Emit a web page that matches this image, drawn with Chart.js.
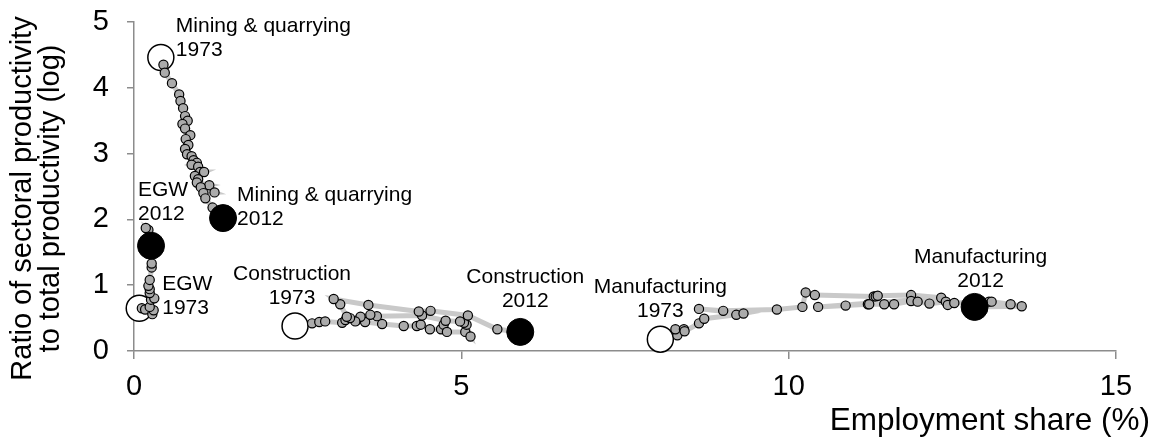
<!DOCTYPE html>
<html>
<head>
<meta charset="utf-8">
<script src="https://cdn.jsdelivr.net/npm/chart.js@4.4.1/dist/chart.umd.min.js"></script>
<style>
  html, body { margin: 0; padding: 0; background: #fff; }
  canvas { display: block; }
</style>
</head>
<body>
<canvas id="chart" width="1156" height="441"></canvas>
<script>
// Employment share (%) and productivity ratio, one entry per year (first = 1973, last = 2012)
const startYear = '1973';
const endYear = '2012';

const miningShare = [0.41, 0.45, 0.47, 0.58, 0.69, 0.71, 0.75, 0.78, 0.82, 0.74, 0.78, 0.86, 0.79, 0.83, 0.78, 0.81, 0.88, 0.91, 0.96, 0.88, 0.98, 1.01, 1.07, 0.93, 0.98, 0.96, 1.15, 1.02, 1.23, 1.06, 1.09, 1.20, 1.36];
const miningRatio = [4.46, 4.35, 4.23, 4.07, 3.90, 3.80, 3.69, 3.57, 3.50, 3.45, 3.38, 3.28, 3.22, 3.13, 3.07, 2.99, 2.96, 2.90, 2.86, 2.83, 2.80, 2.72, 2.72, 2.66, 2.61, 2.56, 2.52, 2.49, 2.41, 2.40, 2.32, 2.18, 2.02];

const egwShare = [0.08, 0.12, 0.17, 0.28, 0.30, 0.24, 0.26, 0.31, 0.24, 0.24, 0.22, 0.24, 0.27, 0.27, 0.22, 0.18, 0.26];
const egwRatio = [0.65, 0.65, 0.63, 0.56, 0.62, 0.67, 0.78, 0.80, 0.88, 0.94, 0.99, 1.08, 1.27, 1.33, 1.84, 1.87, 1.60];

const constructionShare = [2.46, 2.72, 2.83, 2.92, 3.18, 3.23, 3.39, 3.53, 3.79, 4.12, 4.32, 4.38, 4.52, 4.69, 4.73, 4.78, 5.06, 5.14, 5.08, 5.04, 4.98, 4.76, 4.40, 3.71, 3.61, 3.46, 3.38, 3.30, 3.25, 3.15, 3.05, 3.58, 4.35, 4.53, 5.10, 5.55, 5.90];
const constructionRatio = [0.38, 0.42, 0.44, 0.45, 0.43, 0.47, 0.46, 0.44, 0.41, 0.38, 0.38, 0.40, 0.33, 0.33, 0.40, 0.29, 0.29, 0.22, 0.40, 0.43, 0.45, 0.46, 0.54, 0.53, 0.55, 0.52, 0.45, 0.50, 0.52, 0.71, 0.79, 0.70, 0.60, 0.61, 0.54, 0.33, 0.29];

const manufacturingShare = [8.04, 8.30, 8.27, 8.40, 8.41, 8.63, 8.71, 9.20, 9.31, 8.63, 9.00, 9.82, 10.21, 10.26, 10.40, 11.30, 11.33, 11.36, 11.87, 12.33, 10.45, 10.87, 11.21, 11.23, 11.46, 11.61, 11.87, 11.97, 12.15, 12.40, 12.43, 12.53, 13.06, 13.10, 13.39, 13.56, 12.84];
const manufacturingRatio = [0.18, 0.24, 0.33, 0.33, 0.30, 0.42, 0.49, 0.55, 0.57, 0.64, 0.61, 0.63, 0.67, 0.89, 0.85, 0.83, 0.83, 0.84, 0.85, 0.81, 0.67, 0.69, 0.71, 0.71, 0.71, 0.71, 0.76, 0.75, 0.72, 0.75, 0.70, 0.73, 0.75, 0.75, 0.71, 0.68, 0.67];

const xTickValues = [0, 5, 10, 15];
const yTickValues = [0, 1, 2, 3, 4, 5];

const xTitle = 'Employment share (%)';
const yTitleLines = ['Ratio of sectoral productivity', 'to total productivity (log)'];

const sectors = [
  { name: 'Mining & quarrying', share: miningShare, ratio: miningRatio },
  { name: 'EGW', share: egwShare, ratio: egwRatio },
  { name: 'Construction', share: constructionShare, ratio: constructionRatio },
  { name: 'Manufacturing', share: manufacturingShare, ratio: manufacturingRatio }
];

// Where each end-point caption sits, in pixels from its marker
const captionPlacement = [
  { sector: 0, end: 'first', align: 'left',   dx: 15,  dy: -26 },
  { sector: 0, end: 'last',  align: 'left',   dx: 14,  dy: -17.5 },
  { sector: 1, end: 'last',  align: 'left',   dx: -13, dy: -50 },
  { sector: 1, end: 'first', align: 'left',   dx: 23,  dy: -18 },
  { sector: 2, end: 'first', align: 'center', dx: -3,  dy: -46 },
  { sector: 2, end: 'last',  align: 'center', dx: 5,   dy: -49 },
  { sector: 3, end: 'first', align: 'center', dx: 0,   dy: -46 },
  { sector: 3, end: 'last',  align: 'center', dx: 6,   dy: -44 }
];

const FONT = '"Liberation Sans", Arial, Helvetica, sans-serif';

const toPoints = (s, from, to) =>
  s.share.slice(from, to).map((v, i) => ({ x: v, y: s.ratio[from + i] }));

const datasets = [];
// connecting paths
sectors.forEach(s => datasets.push({
  label: s.name + ' path',
  data: toPoints(s, 0, s.share.length),
  showLine: true,
  borderColor: '#c9c9c9',
  borderWidth: 5,
  pointRadius: 0,
  pointHoverRadius: 0,
  clip: false,
  order: 40
}));
// 1973 markers
datasets.push({
  label: startYear,
  data: sectors.map(s => ({ x: s.share[0], y: s.ratio[0] })),
  pointRadius: 13,
  pointBackgroundColor: '#ffffff',
  pointBorderColor: '#000000',
  pointBorderWidth: 1.5,
  clip: false,
  order: 30
});
// intermediate years
sectors.forEach(s => datasets.push({
  label: s.name + ' years',
  data: toPoints(s, 1, s.share.length - 1),
  showLine: false,
  pointRadius: 4.6,
  pointBackgroundColor: '#ababab',
  pointBorderColor: '#000000',
  pointBorderWidth: 1.2,
  clip: false,
  order: 20
}));
// 2012 markers
datasets.push({
  label: endYear,
  data: sectors.map(s => ({ x: s.share[s.share.length - 1], y: s.ratio[s.ratio.length - 1] })),
  pointRadius: 13.5,
  pointBackgroundColor: '#000000',
  pointBorderColor: '#000000',
  pointBorderWidth: 1,
  clip: false,
  order: 10
});

const captions = {
  id: 'captions',
  afterDatasetsDraw(chart) {
    const { ctx, chartArea, scales: { x, y } } = chart;
    ctx.save();
    ctx.fillStyle = '#000';
    ctx.textBaseline = 'alphabetic';
    ctx.font = '21px ' + FONT;
    captionPlacement.forEach(p => {
      const s = sectors[p.sector];
      const i = p.end === 'first' ? 0 : s.share.length - 1;
      const px = x.getPixelForValue(s.share[i]) + p.dx;
      const py = y.getPixelForValue(s.ratio[i]) + p.dy;
      ctx.textAlign = p.align;
      ctx.fillText(s.name, px, py);
      ctx.fillText(p.end === 'first' ? startYear : endYear, px, py + 24);
    });

    // axis titles
    ctx.font = '31.5px ' + FONT;
    ctx.textAlign = 'right';
    ctx.fillText(xTitle, chart.width - 6, 430);

    ctx.font = '29px ' + FONT;
    ctx.textAlign = 'center';
    const cy = (chartArea.top + chartArea.bottom) / 2 + 12;
    [31, 58.5].forEach((bx, k) => {
      ctx.save();
      ctx.translate(bx, cy);
      ctx.rotate(-Math.PI / 2);
      ctx.fillText(yTitleLines[k], 0, 0);
      ctx.restore();
    });
    ctx.restore();
  }
};

const axisColor = '#8c8c8c';

new Chart(document.getElementById('chart'), {
  type: 'scatter',
  data: { datasets },
  plugins: [captions],
  options: {
    responsive: false,
    animation: false,
    devicePixelRatio: 1,
    layout: { padding: { left: 0, right: 40, top: 22, bottom: 0 } },
    plugins: { legend: { display: false }, tooltip: { enabled: false } },
    scales: {
      x: {
        type: 'linear',
        min: 0,
        max: 15,
        afterBuildTicks: s => { s.ticks = xTickValues.map(v => ({ value: v })); },
        afterFit: s => { s.height = 90; s.paddingLeft = 0; s.paddingRight = 0; },
        ticks: { color: '#000', font: { family: FONT, size: 29 }, padding: 11, maxRotation: 0 },
        grid: { drawOnChartArea: false, drawTicks: true, tickLength: 8, color: axisColor, lineWidth: 1.5 },
        border: { display: true, color: axisColor, width: 1.5 }
      },
      y: {
        type: 'linear',
        min: 0,
        max: 5,
        afterBuildTicks: s => { s.ticks = yTickValues.map(v => ({ value: v })); },
        afterFit: s => { s.width = 134; s.paddingTop = 0; s.paddingBottom = 0; },
        ticks: { color: '#000', font: { family: FONT, size: 29 }, padding: 18 },
        grid: { drawOnChartArea: false, drawTicks: true, tickLength: 7, color: axisColor, lineWidth: 1.5 },
        border: { display: true, color: axisColor, width: 1.5 }
      }
    }
  }
});
</script>
</body>
</html>
